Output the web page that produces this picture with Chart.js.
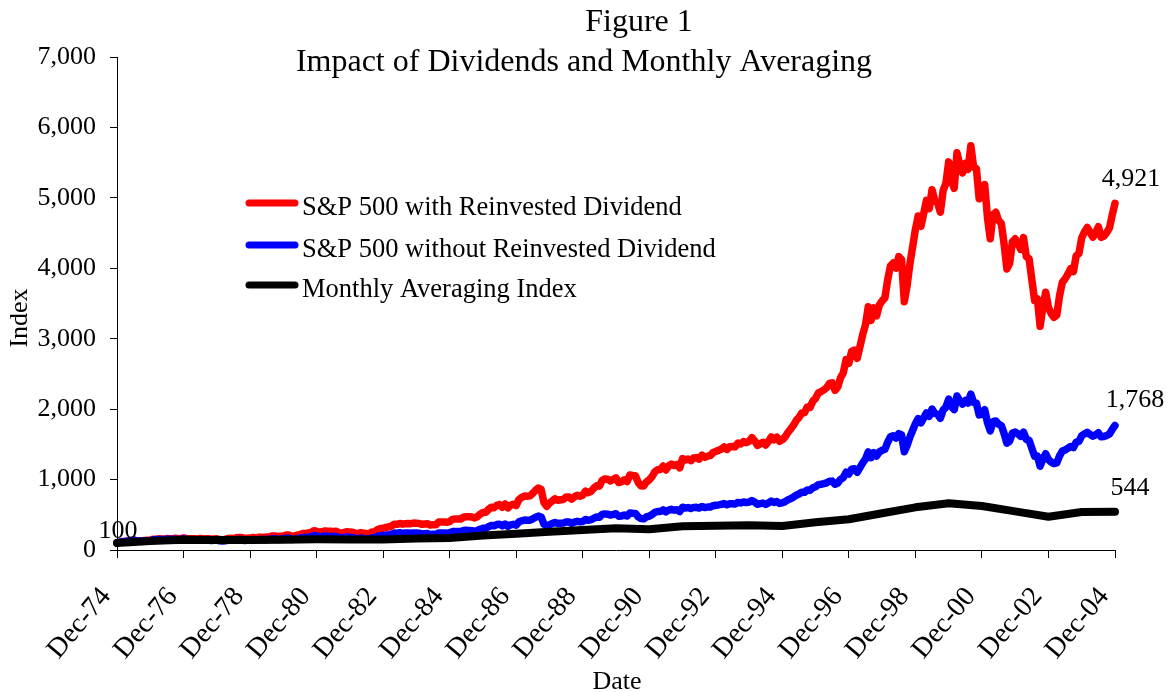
<!DOCTYPE html>
<html>
<head>
<meta charset="utf-8">
<title>Figure 1 - Impact of Dividends and Monthly Averaging</title>
<script src="https://cdn.jsdelivr.net/npm/chart.js@4.4.1/dist/chart.umd.min.js"></script>
<style>
  body { margin: 0; background: #fff; }
  canvas { display: block; }
</style>
</head>
<body>
<canvas id="chart" width="1170" height="692"></canvas>
<script>
// Month offsets from Dec-74 (0) to Dec-04 (360), one point per month
const months = Array.from({ length: 361 }, (_, i) => i);

const tickLabels = ['Dec-74', 'Dec-76', 'Dec-78', 'Dec-80', 'Dec-82', 'Dec-84', 'Dec-86', 'Dec-88',
    'Dec-90', 'Dec-92', 'Dec-94', 'Dec-96', 'Dec-98', 'Dec-00', 'Dec-02', 'Dec-04'];

// S&P 500 with reinvested dividend (Dec-74 = 100)
const withDividend = [100,
    112, 120, 123, 129, 135, 142, 132, 131, 126, 135, 138, 138,
    154, 152, 158, 157, 155, 162, 161, 161, 166, 162, 161, 171,
    163, 160, 159, 159, 155, 164, 161, 158, 159, 153, 157, 159,
    149, 146, 151, 164, 166, 163, 173, 179, 179, 163, 166, 169,
    177, 170, 181, 182, 179, 186, 188, 199, 200, 188, 197, 200,
    214, 213, 192, 201, 211, 219, 233, 236, 243, 248, 274, 266,
    255, 259, 270, 266, 265, 264, 265, 249, 237, 250, 260, 254,
    251, 236, 235, 246, 237, 234, 229, 257, 261, 291, 303, 309,
    320, 328, 340, 367, 364, 377, 367, 373, 377, 374, 382, 380,
    377, 364, 370, 373, 354, 360, 357, 396, 396, 397, 394, 404,
    435, 440, 442, 440, 465, 473, 472, 468, 455, 475, 508, 532,
    535, 575, 607, 601, 633, 644, 607, 653, 598, 634, 650, 632,
    718, 747, 767, 762, 768, 806, 848, 880, 860, 675, 620, 666,
    696, 728, 706, 714, 718, 752, 751, 723, 755, 777, 764, 778,
    836, 814, 833, 879, 912, 907, 990, 1009, 1004, 981, 1002, 1025,
    958, 969, 997, 973, 1066, 1059, 1056, 959, 913, 910, 968, 996,
    1040, 1112, 1140, 1143, 1192, 1137, 1193, 1219, 1199, 1216, 1166, 1299,
    1277, 1293, 1268, 1306, 1312, 1291, 1347, 1317, 1332, 1340, 1382, 1401,
    1414, 1433, 1463, 1428, 1465, 1469, 1466, 1519, 1506, 1539, 1525, 1542,
    1596, 1552, 1485, 1507, 1529, 1492, 1541, 1605, 1565, 1602, 1543, 1565,
    1606, 1668, 1717, 1770, 1838, 1882, 1946, 1950, 2030, 2025, 2113, 2154,
    2230, 2249, 2273, 2306, 2364, 2373, 2268, 2316, 2448, 2516, 2704, 2651,
    2819, 2839, 2722, 2887, 3059, 3198, 3453, 3260, 3439, 3324, 3479, 3537,
    3579, 3837, 4033, 4076, 4003, 4167, 4124, 3526, 3751, 4057, 4303, 4552,
    4743, 4595, 4778, 4965, 4847, 5116, 4958, 4932, 4796, 5102, 5205, 5511,
    5236, 5136, 5639, 5469, 5355, 5490, 5405, 5740, 5436, 5416, 4987, 5013,
    5190, 4719, 4418, 4763, 4795, 4680, 4635, 4341, 3991, 4069, 4379, 4418,
    4353, 4270, 4435, 4168, 4137, 3842, 3544, 3565, 3177, 3457, 3660, 3443,
    3354, 3303, 3335, 3610, 3800, 3849, 3917, 3994, 3954, 4178, 4212, 4434,
    4518, 4579, 4512, 4442, 4503, 4590, 4439, 4457, 4505, 4573, 4757, 4921];

// S&P 500 without reinvested dividend (Dec-74 = 100)
const withoutDividend = [100,
    112, 119, 122, 127, 133, 139, 129, 127, 122, 130, 133, 132,
    147, 145, 150, 148, 146, 152, 151, 150, 154, 150, 149, 157,
    149, 146, 144, 144, 140, 147, 144, 141, 141, 135, 138, 139,
    130, 127, 130, 141, 142, 139, 147, 151, 150, 136, 138, 140,
    146, 140, 148, 148, 145, 150, 151, 159, 159, 149, 155, 157,
    167, 166, 149, 155, 162, 167, 177, 179, 183, 186, 205, 198,
    189, 191, 198, 194, 193, 191, 191, 179, 169, 178, 184, 179,
    176, 165, 163, 170, 163, 160, 156, 174, 176, 195, 202, 205,
    212, 216, 223, 240, 237, 245, 237, 240, 242, 239, 243, 241,
    238, 229, 232, 233, 220, 223, 220, 243, 242, 242, 239, 244,
    262, 264, 264, 262, 276, 280, 278, 275, 266, 277, 295, 308,
    309, 331, 348, 344, 361, 366, 344, 369, 337, 356, 364, 353,
    400, 415, 425, 421, 423, 443, 465, 481, 469, 367, 336, 360,
    375, 391, 378, 381, 382, 399, 397, 381, 397, 407, 399, 405,
    434, 421, 430, 452, 468, 464, 505, 513, 509, 496, 505, 515,
    480, 484, 496, 483, 527, 522, 519, 470, 446, 443, 470, 482,
    502, 535, 547, 547, 569, 541, 566, 577, 566, 572, 547, 608,
    596, 602, 589, 605, 606, 595, 619, 604, 609, 611, 629, 636,
    640, 647, 659, 642, 657, 657, 654, 676, 669, 682, 674, 680,
    702, 681, 650, 658, 666, 648, 668, 694, 675, 689, 662, 670,
    686, 711, 730, 751, 778, 795, 820, 820, 852, 848, 883, 898,
    928, 934, 942, 954, 976, 978, 933, 951, 1003, 1029, 1104, 1080,
    1147, 1153, 1104, 1169, 1237, 1291, 1392, 1312, 1382, 1334, 1394, 1415,
    1430, 1531, 1607, 1622, 1591, 1654, 1635, 1396, 1483, 1602, 1697, 1793,
    1866, 1806, 1876, 1947, 1899, 2002, 1938, 1926, 1871, 1988, 2026, 2143,
    2034, 1993, 2186, 2118, 2072, 2122, 2087, 2214, 2095, 2085, 1918, 1926,
    1992, 1809, 1692, 1822, 1832, 1786, 1767, 1653, 1518, 1546, 1662, 1675,
    1648, 1614, 1674, 1571, 1557, 1444, 1330, 1336, 1189, 1292, 1366, 1283,
    1248, 1227, 1237, 1337, 1405, 1421, 1444, 1470, 1453, 1533, 1543, 1622,
    1650, 1670, 1643, 1615, 1635, 1664, 1607, 1611, 1626, 1648, 1712, 1768];

// Monthly averaging index, read once a year (every December)
const averagingMonths = [0, 12, 24, 36, 48, 60, 72, 84, 96, 108, 120, 132, 144, 156, 168, 180,
    192, 204, 216, 228, 240, 252, 264, 276, 288, 300, 312, 324, 336, 348, 360];
const averagingIndex = [100, 128, 145, 142, 142, 145, 152, 150, 150, 165, 172, 205, 232, 258, 284, 308,
    294, 336, 346, 350, 341, 393, 436, 521, 606, 663, 625, 549, 473, 540, 544];

const serif = '"Liberation Serif", "Times New Roman", serif';
Chart.defaults.font.family = serif;
Chart.defaults.color = '#000';

const toPoints = (xs, ys) => xs.map((x, i) => ({ x: x, y: ys[i] }));
const fmt = v => v.toLocaleString('en-US');

// Titles, legend, end labels and axis titles drawn on top of the chart
const overlayPlugin = {
    id: 'overlay',
    afterDatasetsDraw(chart) {
        const { ctx, scales: { x, y } } = chart;
        ctx.save();
        ctx.fillStyle = '#000';
        ctx.textBaseline = 'alphabetic';

        ctx.font = '32px ' + serif;
        ctx.textAlign = 'center';
        ctx.fillText('Figure 1', 639, 31);
        ctx.fillText('Impact of Dividends and Monthly Averaging', 584, 71);

        // Legend
        ctx.font = '26.5px ' + serif;
        ctx.textAlign = 'left';
        const rows = [203, 245, 285];
        chart.data.datasets.forEach((ds, i) => {
            ctx.strokeStyle = ds.borderColor;
            ctx.lineWidth = 7;
            ctx.lineCap = 'round';
            ctx.beginPath();
            ctx.moveTo(249, rows[i]);
            ctx.lineTo(295, rows[i]);
            ctx.stroke();
            ctx.fillText(ds.label, 302, rows[i] + 12);
        });

        // Start and end values
        ctx.font = '26px ' + serif;
        ctx.textAlign = 'center';
        const last = months.length - 1;
        const labels = [
            { v: withDividend[last], m: months[last], dx: 16, dy: -17 },
            { v: withoutDividend[last], m: months[last], dx: 20, dy: -18 },
            { v: averagingIndex[averagingIndex.length - 1], m: months[last], dx: 15, dy: -17 },
            { v: withDividend[0], m: months[0], dx: 1, dy: -5 }
        ];
        labels.forEach(l => {
            ctx.fillText(fmt(l.v), x.getPixelForValue(l.m) + l.dx, y.getPixelForValue(l.v) + l.dy);
        });

        // Axis titles
        ctx.fillText('Date', 617, 689);
        ctx.translate(27, 318);
        ctx.rotate(-Math.PI / 2);
        ctx.fillText('Index', 0, 0);
        ctx.restore();
    }
};

const lineStyle = {
    borderWidth: 7.5,
    pointRadius: 0,
    pointHoverRadius: 0,
    tension: 0,
    fill: false,
    borderJoinStyle: 'round',
    borderCapStyle: 'round',
    clip: false
};

new Chart(document.getElementById('chart'), {
    type: 'line',
    data: {
        datasets: [
            Object.assign({
                label: 'S&P 500 with Reinvested Dividend',
                data: toPoints(months, withDividend),
                borderColor: '#FF0000',
                order: 3
            }, lineStyle),
            Object.assign({
                label: 'S&P 500 without Reinvested Dividend',
                data: toPoints(months, withoutDividend),
                borderColor: '#0000FF',
                order: 2
            }, lineStyle),
            Object.assign({
                label: 'Monthly Averaging Index',
                data: toPoints(averagingMonths, averagingIndex),
                borderColor: '#000000',
                order: 1
            }, lineStyle, { borderWidth: 8 })
        ]
    },
    options: {
        responsive: false,
        animation: false,
        layout: { padding: { top: 57, right: 55, bottom: 0, left: 0 } },
        plugins: {
            legend: { display: false },
            title: { display: false },
            tooltip: { enabled: false }
        },
        scales: {
            x: {
                type: 'linear',
                min: 0,
                max: 360,
                afterFit: s => { s.height = 142; },
                border: { display: true, color: '#000', width: 1 },
                grid: { drawOnChartArea: false, drawTicks: true, tickLength: 8, color: '#000' },
                ticks: {
                    stepSize: 24,
                    autoSkip: false,
                    minRotation: 50,
                    maxRotation: 50,
                    padding: 23,
                    labelOffset: -11,
                    color: '#000',
                    font: { size: 28 },
                    callback: v => tickLabels[Math.round(v / 24)]
                }
            },
            y: {
                min: 0,
                max: 7000,
                afterFit: s => { s.width = 117; },
                border: { display: true, color: '#000', width: 1 },
                grid: { drawOnChartArea: false, drawTicks: true, tickLength: 7, color: '#000' },
                ticks: {
                    stepSize: 1000,
                    padding: 14,
                    color: '#000',
                    font: { size: 26 },
                    callback: v => fmt(v)
                }
            }
        }
    },
    plugins: [overlayPlugin]
});
</script>
</body>
</html>
